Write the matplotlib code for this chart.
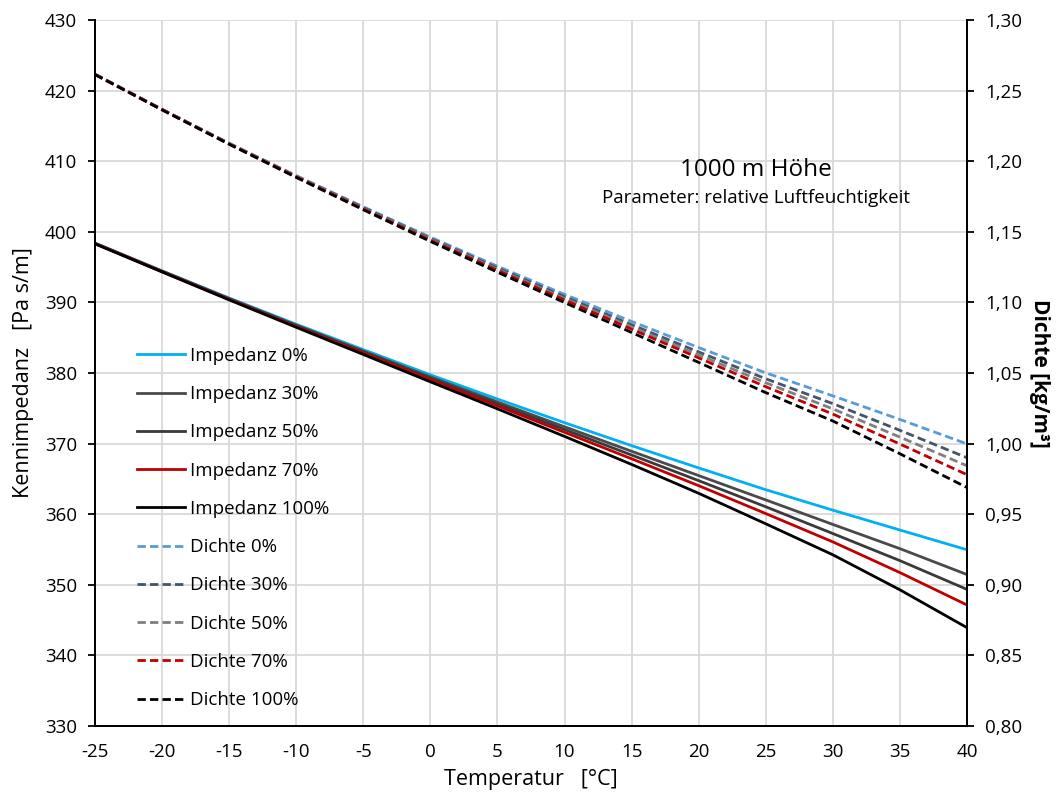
import matplotlib
matplotlib.use("Agg")
import matplotlib.pyplot as plt
from matplotlib.ticker import FuncFormatter

plt.rcParams['font.family'] = ['Open Sans', 'DejaVu Sans']
plt.rcParams['axes.unicode_minus'] = False

# temperatures [°C]
temp = [-25, -20, -15, -10, -5, 0, 5, 10, 15, 20, 25, 30, 35, 40]

# Kennimpedanz [Pa s/m] per relative humidity
imp_0 = [398.41, 394.47, 390.62, 386.90, 383.31, 379.74, 376.31, 372.96, 369.71, 366.55, 363.47, 360.57, 357.76, 354.96]
imp_30 = [398.37, 394.42, 390.54, 386.77, 383.10, 379.44, 375.89, 372.38, 368.91, 365.47, 362.02, 358.55, 355.12, 351.45]
imp_50 = [398.35, 394.39, 390.48, 386.69, 382.97, 379.25, 375.61, 371.99, 368.38, 364.75, 361.05, 357.26, 353.42, 349.35]
imp_70 = [398.33, 394.36, 390.43, 386.60, 382.83, 379.05, 375.34, 371.60, 367.85, 364.04, 360.09, 356.08, 351.73, 347.14]
imp_100 = [398.29, 394.31, 390.35, 386.47, 382.62, 378.75, 374.92, 371.02, 367.05, 362.96, 358.64, 354.25, 349.29, 343.93]

# Dichte [kg/m³] per relative humidity
rho_0 = [1.2617, 1.2368, 1.2128, 1.1898, 1.1677, 1.1462, 1.1256, 1.1057, 1.0865, 1.0680, 1.0501, 1.0338, 1.0171, 0.9998]
rho_30 = [1.2616, 1.2367, 1.2125, 1.1894, 1.1671, 1.1453, 1.1244, 1.1040, 1.0842, 1.0649, 1.0459, 1.0283, 1.0094, 0.9900]
rho_50 = [1.2615, 1.2366, 1.2124, 1.1891, 1.1666, 1.1447, 1.1235, 1.1028, 1.0826, 1.0628, 1.0431, 1.0246, 1.0046, 0.9843]
rho_70 = [1.2614, 1.2365, 1.2122, 1.1889, 1.1662, 1.1441, 1.1227, 1.1017, 1.0810, 1.0607, 1.0403, 1.0209, 0.9997, 0.9780]
rho_100 = [1.2613, 1.2363, 1.2120, 1.1885, 1.1656, 1.1432, 1.1214, 1.0999, 1.0787, 1.0575, 1.0361, 1.0160, 0.9928, 0.9689]

humidity = ['0%', '30%', '50%', '70%', '100%']
imp_series = [imp_0, imp_30, imp_50, imp_70, imp_100]
rho_series = [rho_0, rho_30, rho_50, rho_70, rho_100]
imp_colors = ['#00B0F0', '#4A4A4A', '#3A3A3A', '#C00000', '#000000']
rho_colors = ['#5B9BD5', '#44546A', '#7F7F7F', '#C00000', '#000000']

fig = plt.figure(figsize=(10.64, 8.07), dpi=100)
ax = fig.add_axes([0.0893, 0.1004, 0.8195, 0.8748])
ax2 = ax.twinx()

handles = []
for vals, col, h in zip(imp_series, imp_colors, humidity):
    ln, = ax.plot(temp, vals, color=col, lw=2.0, label='Impedanz ' + h, zorder=3)
    handles.append(ln)
for vals, col, h in zip(rho_series, rho_colors, humidity):
    ln, = ax2.plot(temp, vals, color=col, lw=2.0, dashes=(3, 1.5), label='Dichte ' + h)
    handles.append(ln)

ax.set_xlim(-25, 40)
ax.set_ylim(330, 430)
ax2.set_ylim(0.80, 1.30)
ax.set_xticks(range(-25, 41, 5))
ax.set_yticks(range(330, 431, 10))
ax2.set_yticks([0.80 + 0.05 * i for i in range(11)])
ax2.yaxis.set_major_formatter(FuncFormatter(lambda v, p: f'{v:.2f}'.replace('.', ',')))

ax.grid(True, color='#D9D9D9', lw=1.3)
ax.set_axisbelow(True)
for a in (ax, ax2):
    a.spines['top'].set_visible(False)
    for s in ('left', 'right', 'bottom'):
        a.spines[s].set_color('black')
        a.spines[s].set_linewidth(1.3)

ax.tick_params(axis='y', direction='out', length=5, width=1.3, labelsize=13.5, pad=8, colors='black')
ax.tick_params(axis='x', length=0, labelsize=13.5, pad=12, colors='black')
ax2.tick_params(axis='y', direction='out', length=5, width=1.3, labelsize=13.5, pad=8, colors='black')

ax.set_xlabel('Temperatur   [°C]', fontsize=15.5, labelpad=6)
ax.set_ylabel('Kennimpedanz   [Pa s/m]', fontsize=15.5, labelpad=8)
ax2.set_ylabel('Dichte [kg/m³]', fontsize=15, fontweight='bold', rotation=270, labelpad=20)

ax.text(0.758, 0.787, '1000 m Höhe', transform=ax.transAxes, ha='center', va='center', fontsize=17.5)
ax.text(0.758, 0.748, 'Parameter: relative Luftfeuchtigkeit', transform=ax.transAxes,
        ha='center', va='center', fontsize=13.5)

ax2.legend(handles=handles, loc='upper left', bbox_to_anchor=(0.048, 0.537), frameon=False,
           fontsize=13.5, handlelength=2.56, handletextpad=0.3, labelspacing=1.08,
           borderpad=0, borderaxespad=0)

fig.savefig('out.png', dpi=100)
